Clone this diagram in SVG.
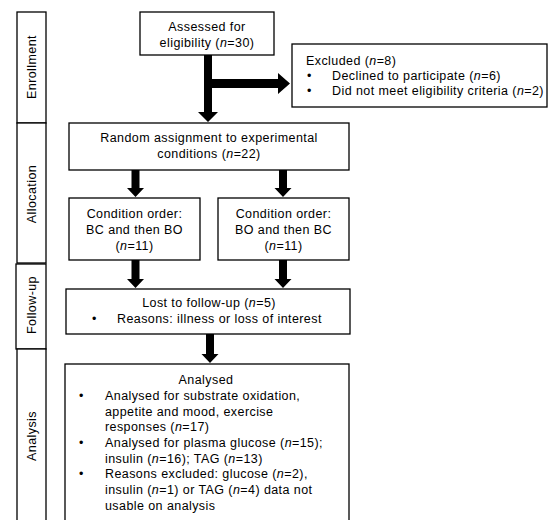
<svg xmlns="http://www.w3.org/2000/svg" width="548" height="520" viewBox="0 0 548 520">
<defs>
<style>
.box{fill:#fff;stroke:#000;stroke-width:1.3}
.t{font-family:"Liberation Sans",Arial,sans-serif;font-size:12.5px;letter-spacing:0.42px;fill:#000}
.c{text-anchor:middle}
.arr{fill:#000;stroke:none}
</style>
</defs>
<rect width="548" height="520" fill="#fff"/>
<g id="side-enrollment"><rect class="box" x="17" y="12" width="29" height="111"/><text class="t c" transform="translate(36,67) rotate(-90)">Enrollment</text></g>
<g id="side-allocation"><rect class="box" x="17" y="123" width="29" height="140"/><text class="t c" transform="translate(36,194) rotate(-90)">Allocation</text></g>
<g id="side-followup"><rect class="box" x="16" y="264" width="30" height="85"/><text class="t c" transform="translate(36,305) rotate(-90)">Follow-up</text></g>
<g id="side-analysis"><rect class="box" x="17" y="349" width="29" height="180"/><text class="t c" transform="translate(36,436) rotate(-90)">Analysis</text></g>

<g id="connectors">
<path class="arr" d="M204,55 H212 V112 H218 L208,122 L198,112 H204 Z"/>
<path class="arr" d="M212,79 H278 V73 L290,83.5 L278,94 V88 H212 Z"/>
<path class="arr" d="M131.5,170 H139.5 V188 H144 L135.5,197 L127,188 H131.5 Z"/>
<path class="arr" d="M279,170 H287 V188 H291.5 L283,197 L274.5,188 H279 Z"/>
<path class="arr" d="M131.5,260 H139.5 V279 H144 L135.5,288 L127,279 H131.5 Z"/>
<path class="arr" d="M279,260 H287 V279 H291.5 L283,288 L274.5,279 H279 Z"/>
<path class="arr" d="M206,334 H214 V354 H218.5 L210,363 L201.5,354 H206 Z"/>
</g>

<g id="assessed"><rect class="box" x="140" y="12" width="134" height="43"/>
<text class="t c" x="207" y="31">Assessed for</text>
<text class="t c" x="207" y="47">eligibility (<tspan font-style="italic">n</tspan>=30)</text></g>

<g id="excluded"><rect class="box" x="292" y="44" width="255" height="63"/>
<text class="t" x="306" y="65">Excluded (<tspan font-style="italic">n</tspan>=8)</text>
<text class="t" x="307" y="80">•</text><text class="t" x="332" y="80">Declined to participate (<tspan font-style="italic">n</tspan>=6)</text>
<text class="t" x="307" y="95">•</text><text class="t" x="332" y="95">Did not meet eligibility criteria (<tspan font-style="italic">n</tspan>=2)</text></g>

<g id="random"><rect class="box" x="69" y="123" width="280" height="47"/>
<text class="t c" x="209" y="142">Random assignment to experimental</text>
<text class="t c" x="209" y="158">conditions (<tspan font-style="italic">n</tspan>=22)</text></g>

<g id="cond-left"><rect class="box" x="69" y="198" width="131" height="62"/>
<text class="t c" x="134.5" y="218">Condition order:</text>
<text class="t c" x="134.5" y="234">BC and then BO</text>
<text class="t c" x="134.5" y="250">(<tspan font-style="italic">n</tspan>=11)</text></g>

<g id="cond-right"><rect class="box" x="218" y="198" width="131" height="62"/>
<text class="t c" x="283.5" y="218">Condition order:</text>
<text class="t c" x="283.5" y="234">BO and then BC</text>
<text class="t c" x="283.5" y="250">(<tspan font-style="italic">n</tspan>=11)</text></g>

<g id="lost"><rect class="box" x="66" y="289" width="284" height="45"/>
<text class="t c" x="209" y="307">Lost to follow-up (<tspan font-style="italic">n</tspan>=5)</text>
<text class="t" x="92" y="323">•</text><text class="t" x="117" y="323">Reasons: illness or loss of interest</text></g>

<g id="analysed"><rect class="box" x="65" y="364" width="284" height="170"/>
<text class="t c" x="206" y="384">Analysed</text>
<text class="t" x="79" y="400">•</text><text class="t" x="105" y="400">Analysed for substrate oxidation,</text>
<text class="t" x="105" y="415.5">appetite and mood, exercise</text>
<text class="t" x="105" y="431">responses (<tspan font-style="italic">n</tspan>=17)</text>
<text class="t" x="79" y="447">•</text><text class="t" x="105" y="447">Analysed for plasma glucose (<tspan font-style="italic">n</tspan>=15);</text>
<text class="t" x="105" y="462.5">insulin (<tspan font-style="italic">n</tspan>=16); TAG (<tspan font-style="italic">n</tspan>=13)</text>
<text class="t" x="79" y="478">•</text><text class="t" x="105" y="478">Reasons excluded: glucose (<tspan font-style="italic">n</tspan>=2),</text>
<text class="t" x="105" y="494">insulin (<tspan font-style="italic">n</tspan>=1) or TAG (<tspan font-style="italic">n</tspan>=4) data not</text>
<text class="t" x="105" y="509.5">usable on analysis</text></g>
</svg>
